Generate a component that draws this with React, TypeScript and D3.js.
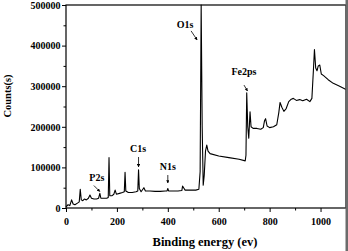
import { useEffect, useRef } from 'react';
import * as d3 from 'd3';

// XPS survey spectrum
const energy = [
  0, 8, 15, 22, 28, 35, 45, 52, 56, 60, 66, 72, 80, 88, 94, 100, 110, 120, 128, 133,
  137, 150, 160, 166, 169, 172, 180, 188, 193, 198, 210, 222, 229, 232, 235, 245, 260, 275,
  282, 285, 288, 295, 306, 312, 330, 350, 370, 390, 397, 400, 403, 420, 440, 455, 458, 462,
  468, 490, 510, 522, 527, 531, 535, 539, 543, 548, 553, 558, 566, 600, 640, 680, 704, 707,
  710, 714, 718, 723, 727, 735, 750, 765, 775, 780, 784, 790, 800, 815, 828, 836, 841, 848,
  856, 865, 875, 885, 893, 905, 918, 930, 945, 958, 966, 972, 976, 981, 986, 991, 997, 1003,
  1012, 1030, 1050, 1075, 1100,
];
const counts = [
  3000, 8000, 6000, 20000, 10000, 8000, 12000, 15000, 46000, 20000, 18000, 22000, 20000, 24000,
  32000, 24000, 22000, 22000, 24000, 36000, 24000, 24000, 24000, 26000, 124000, 30000, 30000,
  34000, 44000, 34000, 36000, 38000, 40000, 88000, 42000, 38000, 38000, 40000, 42000, 94000,
  48000, 40000, 50000, 42000, 42000, 41000, 41000, 42000, 42000, 48000, 42000, 42000, 42000,
  43000, 54000, 50000, 44000, 44000, 44000, 46000, 90000, 500000, 200000, 56000, 80000, 140000,
  155000, 140000, 134000, 128000, 124000, 120000, 116000, 130000, 284000, 200000, 172000, 237000,
  200000, 196000, 196000, 194000, 198000, 215000, 220000, 202000, 198000, 200000, 205000, 235000,
  260000, 248000, 238000, 245000, 262000, 268000, 270000, 265000, 267000, 264000, 268000, 262000,
  270000, 340000, 390000, 345000, 338000, 350000, 352000, 330000, 326000, 316000, 307000, 300000,
  292000,
];

const xTicks = [0, 200, 400, 600, 800, 1000];
const xMinorTicks = [100, 300, 500, 700, 900, 1100];
const yTicks = [0, 100000, 200000, 300000, 400000, 500000];
const yMinorTicks = [50000, 150000, 250000, 350000, 450000];

// peak labels and where their arrows point
const peakLabels = ['O1s', 'Fe2ps', 'C1s', 'N1s', 'P2s'];
const peakEnergy = [515, 713, 285, 400, 133];
const peakCount = [414000, 288000, 101000, 61500, 40600];

export default function App() {
  const svgRef = useRef<SVGSVGElement>(null);

  useEffect(() => {
    if (!svgRef.current) return;
    const svg = d3.select(svgRef.current);
    svg.selectAll('*').remove();

    const width = 348;
    const height = 251;
    const margin = { top: 5, right: 2, bottom: 43, left: 66 };
    const innerWidth = width - margin.left - margin.right;
    const innerHeight = height - margin.top - margin.bottom;
    const font = '"Liberation Serif", "Times New Roman", serif';

    const g = svg.append('g').attr('transform', `translate(${margin.left},${margin.top})`);

    const x = d3.scaleLinear().domain([0, 1100]).range([0, innerWidth]);
    const y = d3.scaleLinear().domain([0, 500000]).range([innerHeight, 0]);

    // minor ticks
    g.append('g')
      .attr('transform', `translate(0,${innerHeight})`)
      .call(d3.axisBottom(x).tickValues(xMinorTicks).tickSize(2.5).tickFormat(() => ''))
      .call(a => a.select('.domain').remove());
    g.append('g')
      .call(d3.axisLeft(y).tickValues(yMinorTicks).tickSize(2.5).tickFormat(() => ''))
      .call(a => a.select('.domain').remove());

    // X axis
    const xAxis = g.append('g')
      .attr('transform', `translate(0,${innerHeight})`)
      .call(d3.axisBottom(x).tickValues(xTicks).tickSize(4).tickPadding(6).tickFormat(d => String(d)));
    xAxis.select('.domain').remove();
    xAxis.selectAll('text')
      .style('font-family', font)
      .style('font-weight', 'bold')
      .style('font-size', '10px')
      .attr('fill', '#000');

    // Y axis
    const yAxis = g.append('g')
      .call(d3.axisLeft(y).tickValues(yTicks).tickSize(4).tickPadding(1.5).tickFormat(d => String(d)));
    yAxis.select('.domain').remove();
    yAxis.selectAll('text')
      .style('font-family', font)
      .style('font-weight', 'bold')
      .style('font-size', '10px')
      .attr('fill', '#000');

    // frame
    g.append('rect')
      .attr('width', innerWidth)
      .attr('height', innerHeight)
      .attr('fill', 'none')
      .attr('stroke', '#000')
      .attr('stroke-width', 1.2);

    // grey edge on the right side of the scan
    svg.append('rect')
      .attr('x', margin.left + innerWidth - 0.5)
      .attr('y', 0)
      .attr('width', 3)
      .attr('height', height)
      .attr('fill', '#6b6b6b');

    // spectrum
    const points = energy.map((e, i) => [e, counts[i]] as [number, number]);
    const line = d3.line<[number, number]>()
      .x(d => x(d[0]))
      .y(d => y(d[1]));
    g.append('path')
      .datum(points)
      .attr('fill', 'none')
      .attr('stroke', '#000')
      .attr('stroke-width', 1.1)
      .attr('stroke-linejoin', 'round')
      .attr('d', line);

    // arrowhead
    svg.append('defs')
      .append('marker')
      .attr('id', 'arrow')
      .attr('viewBox', '0 0 10 10')
      .attr('refX', 9)
      .attr('refY', 5)
      .attr('markerWidth', 4)
      .attr('markerHeight', 4)
      .attr('orient', 'auto')
      .append('path')
      .attr('d', 'M0,0 L10,5 L0,10 z')
      .attr('fill', '#000');

    // text offset and arrow start, relative to the arrow tip
    const layout = [
      { tx: -12, ty: -12, ax: -6, ay: -9 },
      { tx: -3.5, ty: -16, ax: -3.5, ay: -6 },
      { tx: -0.5, ty: -14.5, ax: 0, ay: -10 },
      { tx: 0, ty: -13, ax: 0, ay: -8 },
      { tx: -3, ty: -10.5, ax: -6, ay: -6 },
    ];

    peakLabels.forEach((label, i) => {
      const px = x(peakEnergy[i]);
      const py = y(peakCount[i]);
      const l = layout[i];
      g.append('line')
        .attr('x1', px + l.ax)
        .attr('y1', py + l.ay)
        .attr('x2', px)
        .attr('y2', py)
        .attr('stroke', '#000')
        .attr('stroke-width', 0.8)
        .attr('marker-end', 'url(#arrow)');
      g.append('text')
        .attr('x', px + l.tx)
        .attr('y', py + l.ty)
        .attr('text-anchor', 'middle')
        .style('font-family', font)
        .style('font-weight', 'bold')
        .style('font-size', '10px')
        .text(label);
    });

    // axis titles
    svg.append('text')
      .attr('x', margin.left + innerWidth / 2 - 1)
      .attr('y', 246)
      .attr('text-anchor', 'middle')
      .style('font-family', font)
      .style('font-weight', 'bold')
      .style('font-size', '12.5px')
      .text('Binding energy (ev)');

    svg.append('text')
      .attr('transform', 'rotate(-90)')
      .attr('x', -96)
      .attr('y', 11)
      .attr('text-anchor', 'middle')
      .style('font-family', font)
      .style('font-weight', 'bold')
      .style('font-size', '10.5px')
      .text('Counts(s)');
  }, []);

  return (
    <div style={{ position: 'fixed', left: 0, top: 0, background: '#fff' }}>
      <svg ref={svgRef} width="348" height="251" style={{ display: 'block' }}></svg>
    </div>
  );
}
